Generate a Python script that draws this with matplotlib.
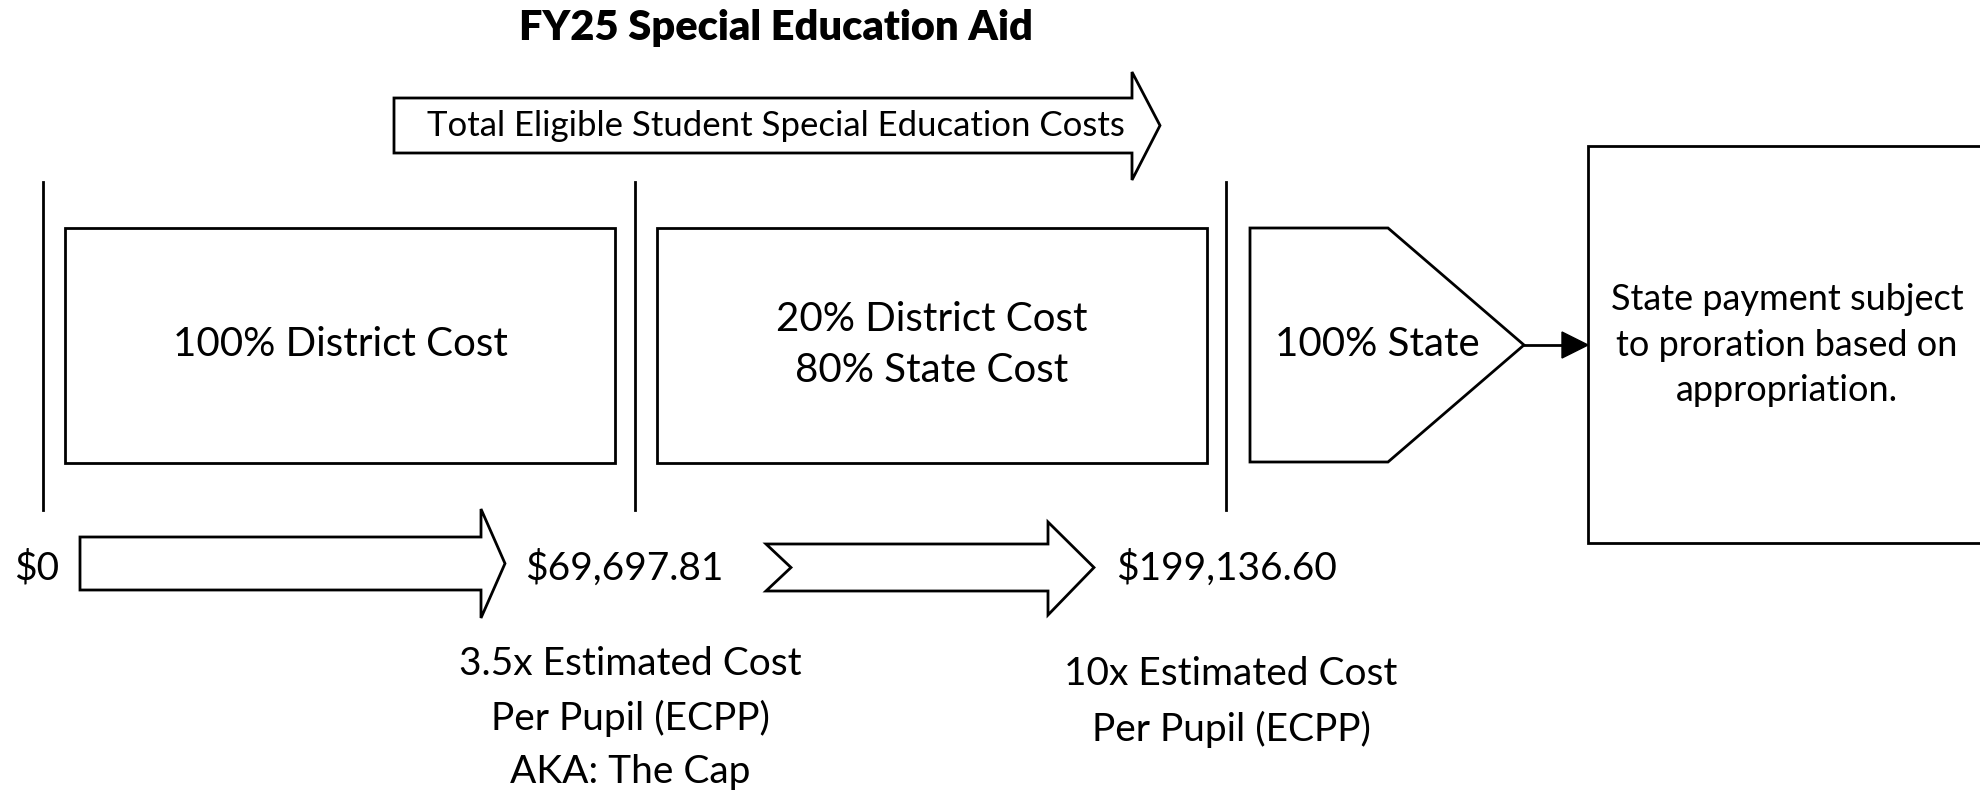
import matplotlib.pyplot as plt
from matplotlib.patches import Polygon, Rectangle

# text content
title = 'FY25 Special Education Aid'
top_label = 'Total Eligible Student Special Education Costs'
box_labels = ['100% District Cost', '20% District Cost\n80% State Cost', '100% State']
note = 'State payment subject\nto proration based on\nappropriation.'
amounts = ['$0', '$69,697.81', '$199,136.60']
thresholds = ['3.5x Estimated Cost\nPer Pupil (ECPP)\nAKA: The Cap',
              '10x Estimated Cost\nPer Pupil (ECPP)']

FONT = 'Lato'
FS = 27
LW = 2.0

fig = plt.figure(figsize=(19.8, 7.95), dpi=100)
ax = fig.add_axes([0, 0, 1, 1])
ax.set_xlim(0, 1980)
ax.set_ylim(795, 0)
ax.axis('off')


def block_arrow(x0, x1, xtip, ytop, ybot, htop, hbot, notch=0):
    yc = (ytop + ybot) / 2
    pts = [(x0, ytop), (x1, ytop), (x1, htop), (xtip, yc), (x1, hbot), (x1, ybot), (x0, ybot)]
    if notch:
        pts.append((x0 + notch, yc))
    ax.add_patch(Polygon(pts, closed=True, fc='white', ec='black', lw=LW))


# title
ax.text(776, 28, title, ha='center', va='center', fontsize=FS + 3, fontweight='heavy', family=FONT)

# top arrow
block_arrow(394, 1132, 1160, 98, 153, 72, 180)
ax.text(776, 126, top_label, ha='center', va='center', fontsize=FS - 2, family=FONT)

# vertical separators
for x in [43, 635, 1226]:
    ax.plot([x, x], [182, 510], color='black', lw=LW)

# boxes
ax.add_patch(Rectangle((65, 228), 550, 235, fc='white', ec='black', lw=LW))
ax.add_patch(Rectangle((657, 228), 550, 235, fc='white', ec='black', lw=LW))
ax.text(340, 345, box_labels[0], ha='center', va='center', fontsize=FS + 2, family=FONT)
ax.text(932, 345, box_labels[1], ha='center', va='center', fontsize=FS + 2, family=FONT,
        linespacing=1.45)

# pentagon
ax.add_patch(Polygon([(1250, 228), (1388, 228), (1524, 345), (1388, 462), (1250, 462)],
                     closed=True, fc='white', ec='black', lw=LW))
ax.text(1377, 345, box_labels[2], ha='center', va='center', fontsize=FS + 2, family=FONT)

# connector
ax.plot([1524, 1565], [345, 345], color='black', lw=LW)
ax.add_patch(Polygon([(1562, 332), (1588, 345), (1562, 358)], closed=True, fc='black', ec='black'))

# note box (runs off the right edge)
ax.add_patch(Rectangle((1588, 146), 500, 397, fc='white', ec='black', lw=LW, clip_on=True))
ax.text(1787, 345, note, ha='center', va='center', fontsize=FS - 1, family=FONT,
        linespacing=1.45)

# bottom arrows
block_arrow(80, 481, 505, 537, 590, 509, 618)
block_arrow(766, 1048, 1094, 544, 591, 522, 615, notch=25)

amount_x = [14, 525, 1116]
for x, s in zip(amount_x, amounts):
    ax.text(x, 568, s, ha='left', va='center', fontsize=FS + 1, family=FONT)

ax.text(630, 718, thresholds[0], ha='center', va='center', fontsize=FS + 1, family=FONT,
        linespacing=1.6)
ax.text(1231, 702, thresholds[1], ha='center', va='center', fontsize=FS + 1, family=FONT,
        linespacing=1.6)

fig.savefig('out.png', dpi=100)
